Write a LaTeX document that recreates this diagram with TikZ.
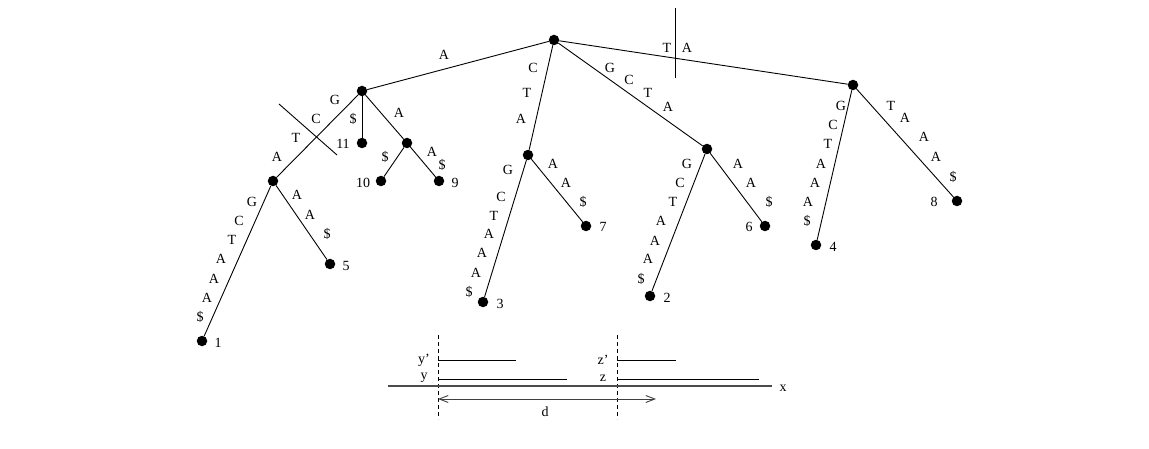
\documentclass[tikz,border=0pt]{standalone}
\usepackage{fontspec}
\setmainfont{Liberation Serif}
\usetikzlibrary{arrows.meta}
\begin{document}
\begin{tikzpicture}[x=1pt,y=-1pt,
  vtx/.style={circle,fill=black,inner sep=0pt,minimum size=10.5pt},
  edge/.style={line width=0.9pt},
  lab/.style={font=\fontsize{14}{14}\selectfont,inner sep=0pt},
  cut/.style={line width=0.9pt},
  guide/.style={line width=0.8pt,dash pattern=on 4pt off 3pt},
  seg/.style={line width=0.9pt},
  axis/.style={line width=1.2pt,black!70},
  darrow/.style={line width=0.9pt,black!75,{Straight Barb[length=9pt,width=7pt]}-{Straight Barb[length=9pt,width=7pt]}}]
\useasboundingbox (0,0) rectangle (1149,449);
% vertices
\node[vtx] (r) at (554,40) {};
\node[vtx] (a) at (362,91) {};
\node[vtx] (n11) at (362,143) {};
\node[vtx] (aa) at (407,143) {};
\node[vtx] (n10) at (381,181) {};
\node[vtx] (n9) at (439,181) {};
\node[vtx] (act) at (273,181) {};
\node[vtx] (n1) at (202,341) {};
\node[vtx] (n5) at (330,264) {};
\node[vtx] (cta) at (528,155) {};
\node[vtx] (n3) at (483,302) {};
\node[vtx] (n7) at (586,226) {};
\node[vtx] (gcta) at (707,149) {};
\node[vtx] (n2) at (650,296) {};
\node[vtx] (n6) at (765,226) {};
\node[vtx] (ta) at (853,85) {};
\node[vtx] (n4) at (816,245) {};
\node[vtx] (n8) at (957,201) {};
% edges
\draw[edge] (r) -- (a);
\draw[edge] (a) -- (n11);
\draw[edge] (a) -- (aa);
\draw[edge] (aa) -- (n10);
\draw[edge] (aa) -- (n9);
\draw[edge] (a) -- (act);
\draw[edge] (act) -- (n1);
\draw[edge] (act) -- (n5);
\draw[edge] (r) -- (cta);
\draw[edge] (cta) -- (n3);
\draw[edge] (cta) -- (n7);
\draw[edge] (r) -- (gcta);
\draw[edge] (gcta) -- (n2);
\draw[edge] (gcta) -- (n6);
\draw[edge] (r) -- (ta);
\draw[edge] (ta) -- (n4);
\draw[edge] (ta) -- (n8);
% cut marks
\coordinate (c1a) at (279,104);
\coordinate (c1b) at (337,155);
\coordinate (c2a) at (675,8);
\coordinate (c2b) at (675,78);
\draw[cut] (c1a) -- (c1b);
\draw[cut] (c2a) -- (c2b);
% edge letters
\node[lab] at (444,55) {A};
\node[lab] at (335,100) {G};
\node[lab] at (316,119) {C};
\node[lab] at (296,138) {T};
\node[lab] at (277,157) {A};
\node[lab] at (353,119) {\$};
\node[lab] at (399,113) {A};
\node[lab] at (385,157) {\$};
\node[lab] at (432,152) {A};
\node[lab] at (442,165) {\$};
\node[lab] at (252,202) {G};
\node[lab] at (239,221) {C};
\node[lab] at (232,240) {T};
\node[lab] at (221,259) {A};
\node[lab] at (214,279) {A};
\node[lab] at (207,298) {A};
\node[lab] at (200,317) {\$};
\node[lab] at (297,195) {A};
\node[lab] at (310,215) {A};
\node[lab] at (327,234) {\$};
\node[lab] at (533,68) {C};
\node[lab] at (527,93) {T};
\node[lab] at (521,119) {A};
\node[lab] at (508,170) {G};
\node[lab] at (501,197) {C};
\node[lab] at (494,216) {T};
\node[lab] at (489,234) {A};
\node[lab] at (482,253) {A};
\node[lab] at (476,273) {A};
\node[lab] at (469,292) {\$};
\node[lab] at (553,164) {A};
\node[lab] at (566,183) {A};
\node[lab] at (583,202) {\$};
\node[lab] at (610,68) {G};
\node[lab] at (629,80) {C};
\node[lab] at (648,93) {T};
\node[lab] at (668,107) {A};
\node[lab] at (687,164) {G};
\node[lab] at (680,183) {C};
\node[lab] at (673,202) {T};
\node[lab] at (661,221) {A};
\node[lab] at (655,241) {A};
\node[lab] at (648,259) {A};
\node[lab] at (641,279) {\$};
\node[lab] at (738,164) {A};
\node[lab] at (751,183) {A};
\node[lab] at (769,202) {\$};
\node[lab] at (667,48) {T};
\node[lab] at (687,48) {A};
\node[lab] at (841,106) {G};
\node[lab] at (833,125) {C};
\node[lab] at (828,144) {T};
\node[lab] at (821,164) {A};
\node[lab] at (815,183) {A};
\node[lab] at (808,202) {A};
\node[lab] at (807,221) {\$};
\node[lab] at (891,106) {T};
\node[lab] at (905,118) {A};
\node[lab] at (924,137) {A};
\node[lab] at (936,157) {A};
\node[lab] at (953,177) {\$};
% leaf numbers
\node[lab] at (343,144) {11};
\node[lab] at (363,183) {10};
\node[lab] at (455,183) {9};
\node[lab] at (218,343) {1};
\node[lab] at (346,266) {5};
\node[lab] at (500,304) {3};
\node[lab] at (603,227) {7};
\node[lab] at (667,298) {2};
\node[lab] at (749,227) {6};
\node[lab] at (833,247) {4};
\node[lab] at (934,202) {8};
% bottom illustration
\coordinate (g1t) at (438,335);
\coordinate (g1b) at (438,419);
\coordinate (g2t) at (617,335);
\coordinate (g2b) at (617,419);
\draw[guide] (g1t) -- (g1b);
\draw[guide] (g2t) -- (g2b);
\coordinate (yp1) at (438,360);
\coordinate (yp2) at (516,360);
\coordinate (y1) at (438,379);
\coordinate (y2) at (567,379);
\coordinate (zp1) at (617,360);
\coordinate (zp2) at (676,360);
\coordinate (z1) at (617,379);
\coordinate (z2) at (759,379);
\draw[seg] (yp1) -- (yp2);
\draw[seg] (y1) -- (y2);
\draw[seg] (zp1) -- (zp2);
\draw[seg] (z1) -- (z2);
\node[lab] (lyp) at (424,360) {y'};
\node[lab] (ly) at (424,378) {y};
\node[lab] (lzp) at (603,360) {z'};
\node[lab] (lz) at (603,378) {z};
\coordinate (x1) at (388,386);
\coordinate (x2) at (772,386);
\draw[axis] (x1) -- (x2);
\node[lab] (lx) at (783,388) {x};
\coordinate (d1) at (438,399);
\coordinate (d2) at (656,399);
\draw[darrow] (d1) -- (d2);
\node[lab] (ld) at (545,412) {d};
\end{tikzpicture}
\end{document}
